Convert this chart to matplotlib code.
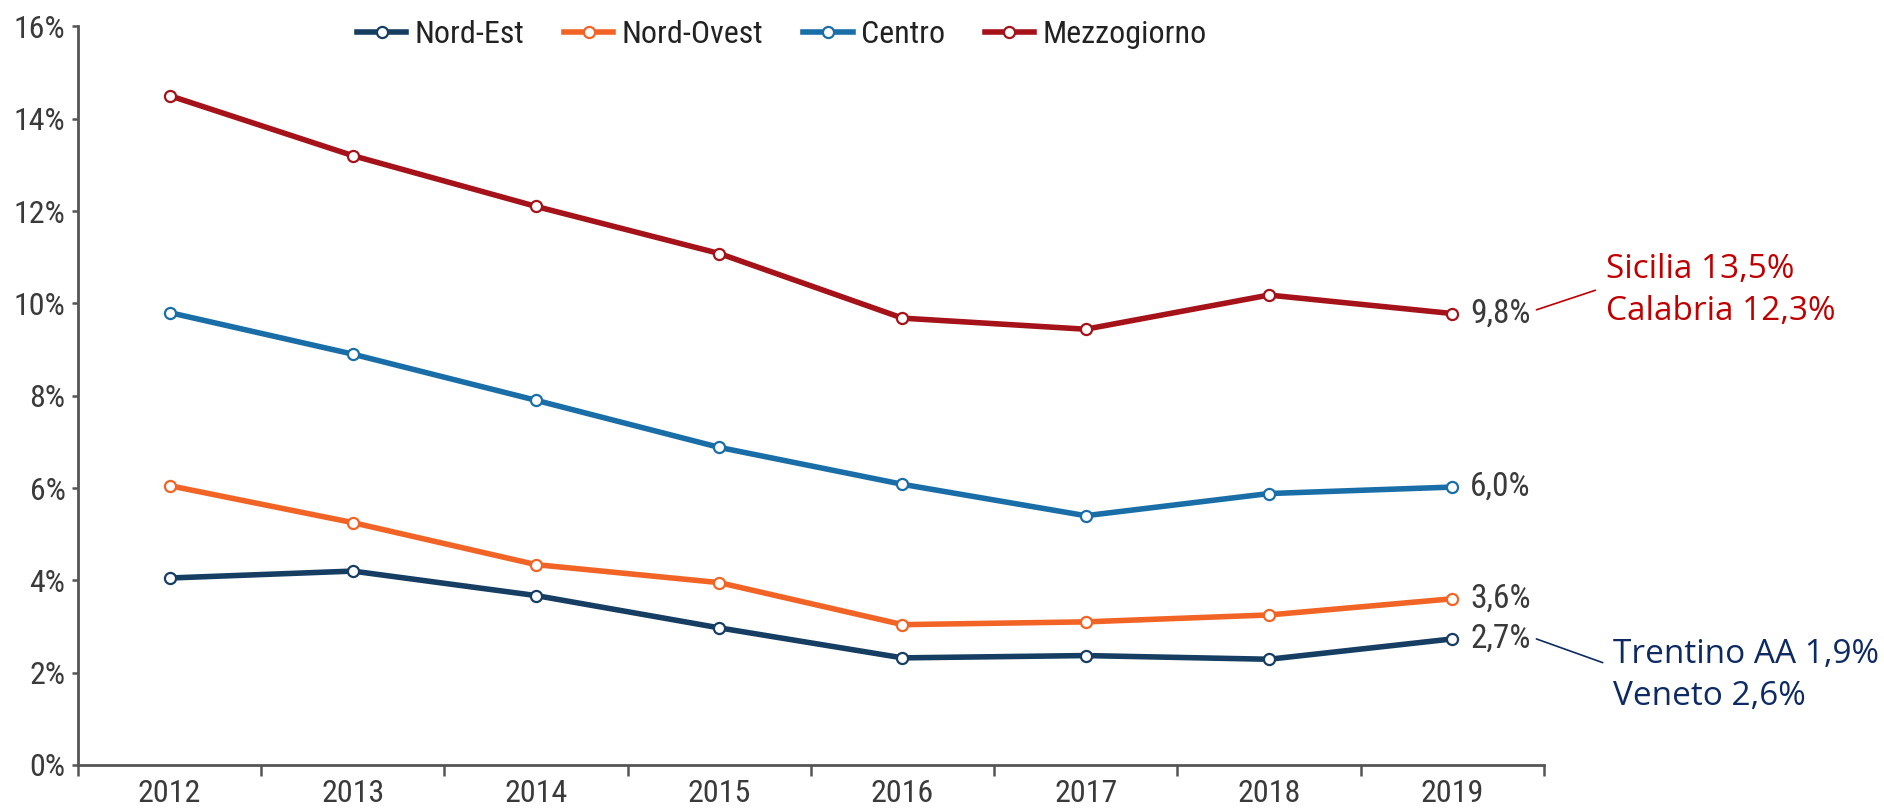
import matplotlib
matplotlib.use("Agg")
import matplotlib.pyplot as plt
from matplotlib import font_manager
import numpy as np

# data (percent)
years = ["2012", "2013", "2014", "2015", "2016", "2017", "2018", "2019"]
nord_est = [4.05, 4.2, 3.67, 2.97, 2.32, 2.37, 2.29, 2.73]
nord_ovest = [6.05, 5.25, 4.34, 3.95, 3.04, 3.1, 3.25, 3.6]
centro = [9.8, 8.9, 7.9, 6.88, 6.08, 5.4, 5.88, 6.02]
mezzogiorno = [14.5, 13.2, 12.1, 11.08, 9.68, 9.44, 10.18, 9.78]
end_labels = ["2,7%", "3,6%", "6,0%", "9,8%"]
series_names = ["Nord-Est", "Nord-Ovest", "Centro", "Mezzogiorno"]
colors = ["#163d62", "#f26425", "#1a6ea8", "#a51219"]
note_south = "Sicilia 13,5%\nCalabria 12,3%"
note_north = "Trentino AA 1,9%\nVeneto 2,6%"

# narrow face for the chart text, if there is one
installed = {f.name for f in font_manager.fontManager.ttflist}
COND = "Roboto"
for cand in ["Liberation Sans Narrow", "Roboto Condensed", "Open Sans Condensed"]:
    if cand in installed:
        COND = cand
        break
TXT = "#3a3a3a"
FS = 23


def draw():
    fig = plt.figure(figsize=(18.84, 8.10), dpi=100)
    ax = fig.add_axes([0.0414, 0.0556, 0.778, 0.9118])
    x = np.arange(len(years))

    all_series = [nord_est, nord_ovest, centro, mezzogiorno]
    for vals, name, col, lab in zip(all_series, series_names, colors, end_labels):
        ax.plot(x, vals, color=col, lw=4, marker="o", ms=8,
                mfc="white", mec=col, mew=1.6, label=name, zorder=3)
        ax.annotate(lab, (x[-1], vals[-1]), xytext=(13, 0),
                    textcoords="offset points", ha="left", va="center",
                    fontsize=24, family=COND, color=TXT)

    ax.set_xlim(-0.5, len(years) - 0.5)
    ax.set_ylim(0, 16)
    ax.set_yticks(np.arange(0, 17, 2))
    ax.set_yticklabels([f"{v}%" for v in range(0, 17, 2)])
    ax.set_xticks(x)
    ax.set_xticklabels(years)
    ax.set_xticks(np.arange(-0.5, len(years), 1), minor=True)
    ax.tick_params(axis="x", which="major", length=0, pad=10)
    ax.tick_params(axis="x", which="minor", length=8, width=1.8,
                   color="#555555", direction="out")
    ax.tick_params(axis="y", length=4, width=1.8, color="#555555", pad=5)
    for lbl in ax.get_xticklabels() + ax.get_yticklabels():
        lbl.set_family(COND)
        lbl.set_fontsize(FS)
        lbl.set_color(TXT)

    for s in ["top", "right"]:
        ax.spines[s].set_visible(False)
    for s in ["left", "bottom"]:
        ax.spines[s].set_color("#555555")
        ax.spines[s].set_linewidth(2)

    leg = ax.legend(loc="upper center", bbox_to_anchor=(0.48, 1.048), ncol=4,
                    frameon=False, handlelength=1.55, handletextpad=0.25,
                    columnspacing=1.25, prop={"family": COND, "size": FS})
    for t in leg.get_texts():
        t.set_color("#222222")

    # side notes with leader lines
    ax.annotate(note_south, xy=(7.46, 9.86), xytext=(7.84, 10.28),
                ha="left", va="center", fontsize=24, family="Open Sans",
                color="#c00000", linespacing=1.35, annotation_clip=False,
                arrowprops=dict(arrowstyle="-", color="#c00000", lw=1.2,
                                relpos=(0, 0.55), shrinkA=6, shrinkB=0))
    ax.annotate(note_north, xy=(7.46, 2.73), xytext=(7.88, 1.94),
                ha="left", va="center", fontsize=24, family="Open Sans",
                color="#0d2a63", linespacing=1.35, annotation_clip=False,
                arrowprops=dict(arrowstyle="-", color="#0d2a63", lw=1.2,
                                relpos=(0, 0.62), shrinkA=6, shrinkB=0))

    fig.savefig("out.png", dpi=100, facecolor="white")


if __name__ == "__main__":
    draw()
